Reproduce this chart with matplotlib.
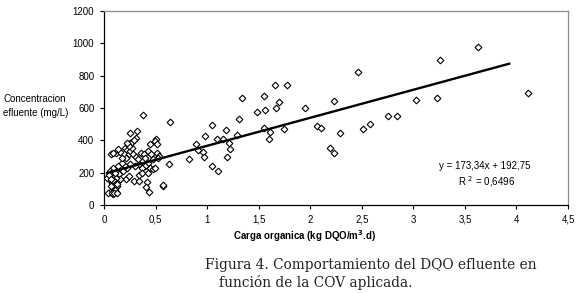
import numpy as np
import matplotlib
matplotlib.use("Agg")
import matplotlib.pyplot as plt

plt.rcParams['font.family'] = ['Liberation Sans', 'DejaVu Sans']

# carga organica (kg DQO/m3.d) vs DQO efluente (mg/L)
carga = [
    3.63, 3.26, 4.11, 3.23, 3.03, 2.46, 2.23, 2.58, 2.515, 2.75, 2.84, 2.29,
    2.19, 2.23, 2.07, 2.10, 1.95, 1.66, 1.77, 1.70, 1.67, 1.55, 1.56, 1.48,
    1.55, 1.61, 1.60, 1.75, 1.34, 1.31, 1.29, 1.18, 1.15, 1.10, 1.05, 1.21,
    1.22, 1.19, 0.98, 0.89, 0.91, 0.96, 0.97, 0.82, 1.05, 1.11, 0.64, 0.63,
    0.57, 0.575, 0.38, 0.32, 0.25, 0.31, 0.50, 0.49, 0.45, 0.51,
    0.07, 0.12, 0.16, 0.20, 0.22, 0.24, 0.25, 0.27, 0.25, 0.27, 0.29, 0.24,
    0.28, 0.31, 0.36, 0.39, 0.43, 0.46, 0.51, 0.53, 0.48, 0.43, 0.40, 0.37,
    0.45, 0.48, 0.34, 0.30, 0.25, 0.22, 0.20, 0.17, 0.14, 0.18, 0.12, 0.09,
    0.08, 0.06, 0.05, 0.09, 0.12, 0.11, 0.14, 0.08, 0.03, 0.06, 0.15, 0.21,
    0.24, 0.29, 0.34, 0.34, 0.42, 0.41, 0.44, 0.06, 0.09, 0.12, 0.04, 0.11,
    0.13, 0.16, 0.37, 0.43, 0.49, 0.52, 0.33, 0.40, 0.21, 0.17, 0.22, 0.14,
    0.09, 0.10, 0.07, 0.11, 0.13, 0.08, 0.10, 0.12, 0.07, 0.09, 0.11, 0.05,
    0.08, 0.10, 0.13, 0.07,
]
dqo = [
    977, 899, 691, 664, 647, 825, 643, 499, 470, 553, 553, 447,
    355, 324, 491, 478, 600, 742, 742, 639, 602, 674, 586, 577,
    478, 452, 410, 472, 664, 534, 433, 464, 410, 410, 495, 386,
    344, 299, 427, 379, 338, 328, 297, 287, 241, 210, 511, 252,
    118, 124, 559, 458, 447, 412, 406, 396, 375, 379,
    313, 320, 330, 355, 338, 318, 334, 355, 386, 392, 400, 365,
    313, 297, 324, 318, 334, 313, 324, 303, 282, 262, 241, 231,
    231, 220, 252, 241, 252, 231, 241, 262, 241, 210, 210, 231,
    200, 179, 159, 173, 179, 148, 148, 138, 165, 210, 190, 159,
    179, 148, 148, 186, 142, 111, 82, 82, 70, 82, 76, 103,
    117, 159, 200, 200, 231, 293, 282, 293, 293, 293, 386, 344,
    324, 190, 120, 95, 130, 175, 185, 165, 195, 155, 200, 185,
    72, 74, 76, 160,
]

pendiente = 173.34
intercepto = 192.75
x_ticks = [0, 0.5, 1, 1.5, 2, 2.5, 3, 3.5, 4, 4.5]
x_labels = ["0", "0,5", "1", "1,5", "2", "2,5", "3", "3,5", "4", "4,5"]
y_ticks = [0, 200, 400, 600, 800, 1000, 1200]

fig = plt.figure(figsize=(5.78, 2.93), dpi=100)
ax = fig.add_axes([104 / 578, 1 - 205 / 293, 464 / 578, 194 / 293])

ax.plot(carga, dqo, linestyle="none", marker="D", markersize=3.4,
        markerfacecolor="white", markeredgecolor="black", markeredgewidth=0.8,
        zorder=3)

xl = np.array([0.03, 3.93])
ax.plot(xl, pendiente * xl + intercepto, color="black", linewidth=1.7, zorder=4)

ax.set_xlim(0, 4.5)
ax.set_ylim(0, 1200)
ax.set_xticks(x_ticks)
ax.set_xticklabels(x_labels)
ax.set_yticks(y_ticks)
ax.tick_params(labelsize=7, length=3, width=0.8, colors="black", pad=4)
for s in ["left", "bottom"]:
    ax.spines[s].set_color("black")
    ax.spines[s].set_linewidth(0.9)
for s in ["top", "right"]:
    ax.spines[s].set_color("#8c8c8c")
    ax.spines[s].set_linewidth(0.9)

ax.text(485 / 578, 1 - 166 / 293, "y = 173,34x + 192,75", transform=fig.transFigure,
        ha="center", va="center", fontsize=7)
ax.text(487 / 578, 1 - 182 / 293, "R $^2$ = 0,6496", transform=fig.transFigure,
        ha="center", va="center", fontsize=7)

fig.text(4 / 578, 1 - 99 / 293, "Concentracion", ha="left", va="center", fontsize=7)
fig.text(3 / 578, 1 - 113 / 293, "efluente (mg/L)", ha="left", va="center", fontsize=7)

fig.text(305 / 578, 1 - 236 / 293, "Carga organica (kg DQO/m$^{\\mathbf{3}}$.d)",
         ha="center", va="center", fontsize=7, fontweight="bold")

fig.text(205 / 578, 1 - 265 / 293, "Figura 4. Comportamiento del DQO efluente en",
         ha="left", va="center", fontsize=9.9, family="DejaVu Serif", color="#222222")
fig.text(219 / 578, 1 - 283 / 293, "función de la COV aplicada.",
         ha="left", va="center", fontsize=9.9, family="DejaVu Serif", color="#222222")

fig.savefig("out.png", dpi=100)
